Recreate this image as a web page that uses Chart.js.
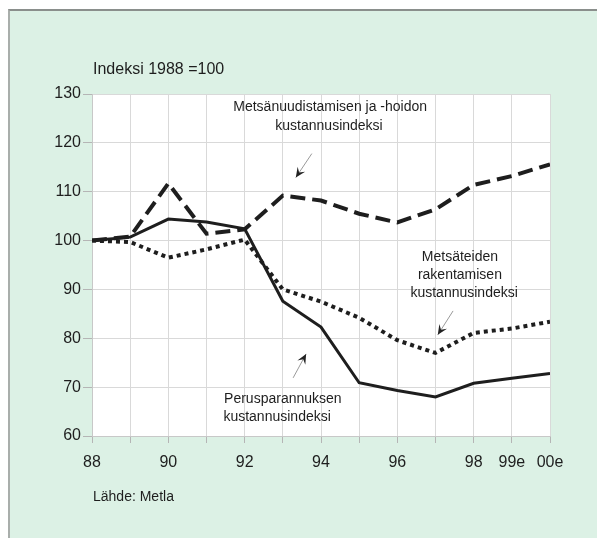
<!DOCTYPE html>
<html>
<head>
<meta charset="utf-8">
<script src="https://cdn.jsdelivr.net/npm/chart.js@4"></script>
<style>
html,body{margin:0;padding:0;background:#fff;}
#frame{position:absolute;left:8px;top:9px;right:0;bottom:0;background:#dcf1e5;border-top:2px solid #8a8f8c;border-left:2px solid #a9aeab;}
#c{position:absolute;left:0;top:0;}
</style>
</head>
<body>
<div id="frame"></div>
<canvas id="c" width="597" height="538"></canvas>
<script>
// ---- data ----
const years = [88, 89, 90, 91, 92, 93, 94, 95, 96, 97, 98, 99, 100];
const tickLabels = {88: "88", 90: "90", 92: "92", 94: "94", 96: "96", 98: "98", 99: "99e", 100: "00e"};
const uudistaminen = [100, 100.8, 111.7, 101.4, 102.3, 109.2, 108.2, 105.5, 103.7, 106.4, 111.4, 113.2, 115.6];
const metsatiet    = [100, 99.7, 96.5, 98.2, 100.2, 90.0, 87.5, 84.2, 79.6, 77.0, 81.1, 82.0, 83.4];
const perusparannus= [100, 100.7, 104.4, 103.8, 102.4, 87.6, 82.3, 70.9, 69.3, 68.0, 70.8, 71.8, 72.8];

const FONT = "'Liberation Sans', Arial, sans-serif";
const INK = '#1e1e1e';

function pts(arr){ return years.map((y,i)=>({x:y, y:arr[i]})); }

const decor = {
  id: 'decor',
  beforeDatasetsDraw(chart){},
  beforeDraw(chart){
    const {ctx, chartArea:a} = chart;
    ctx.save();
    ctx.fillStyle = '#ffffff';
    ctx.fillRect(a.left, a.top, a.right - a.left, a.bottom - a.top);
    ctx.restore();
  },
  afterDraw(chart){
    const {ctx} = chart;
    const xs = chart.scales.x, ys = chart.scales.y;
    const X = v => xs.getPixelForValue(v), Y = v => ys.getPixelForValue(v);
    ctx.save();
    ctx.fillStyle = INK;
    ctx.textBaseline = 'middle';
    // title
    ctx.font = '16px ' + FONT;
    ctx.textAlign = 'left';
    ctx.fillText('Indeksi 1988 =100', 93, 70);
    // source
    ctx.font = '14px ' + FONT;
    ctx.fillText('Lähde: Metla', 93, 497);
    // annotations
    ctx.font = '14px ' + FONT;
    ctx.textAlign = 'center';
    const labels = [
      ['Metsänuudistamisen ja -hoidon', 94.24, 127.4],
      ['kustannusindeksi', 94.21, 123.5],
      ['Metsäteiden', 97.64, 96.7],
      ['rakentamisen', 97.64, 93.0],
      ['kustannusindeksi', 97.75, 89.3],
      ['Perusparannuksen', 93.0, 67.6],
      ['kustannusindeksi', 92.85, 63.9]
    ];
    labels.forEach(([t,x,y]) => ctx.fillText(t, X(x), Y(y)));
    // arrows
    const arrows = [
      [93.76, 117.8, 93.34, 112.9],
      [97.46, 85.6, 97.06, 80.7],
      [93.27, 71.9, 93.61, 76.8]
    ];
    arrows.forEach(([x1,y1,x2,y2]) => {
      const px1 = X(x1), py1 = Y(y1), px2 = X(x2), py2 = Y(y2);
      ctx.strokeStyle = '#9a9a9a';
      ctx.lineWidth = 1;
      ctx.beginPath(); ctx.moveTo(px1, py1); ctx.lineTo(px2, py2); ctx.stroke();
      const ang = Math.atan2(py2 - py1, px2 - px1);
      const L = 10, W = 4.5;
      const bx = px2 - L * Math.cos(ang), by = py2 - L * Math.sin(ang);
      const nx = px2 - 0.6 * L * Math.cos(ang), ny = py2 - 0.6 * L * Math.sin(ang);
      ctx.fillStyle = '#222';
      ctx.beginPath();
      ctx.moveTo(px2, py2);
      ctx.lineTo(bx + W * Math.sin(ang), by - W * Math.cos(ang));
      ctx.lineTo(nx, ny);
      ctx.lineTo(bx - W * Math.sin(ang), by + W * Math.cos(ang));
      ctx.closePath();
      ctx.fill();
    });
    ctx.restore();
  }
};

new Chart(document.getElementById('c'), {
  type: 'line',
  data: {
    datasets: [
      { label: 'Metsäteiden rakentamisen kustannusindeksi', data: pts(metsatiet),
        borderColor: INK, borderWidth: 4, borderDash: [4, 4], borderCapStyle: 'butt', pointRadius: 0, tension: 0, fill: false },
      { label: 'Perusparannuksen kustannusindeksi', data: pts(perusparannus),
        borderColor: INK, borderWidth: 3, pointRadius: 0, tension: 0, fill: false },
      { label: 'Metsänuudistamisen ja -hoidon kustannusindeksi', data: pts(uudistaminen),
        borderColor: INK, borderWidth: 4, borderDash: [15, 7], borderCapStyle: 'butt', pointRadius: 0, tension: 0, fill: false }
    ]
  },
  options: {
    responsive: false,
    animation: false,
    layout: { padding: { left: 42, top: 94, right: 47, bottom: 62 } },
    plugins: { legend: { display: false }, tooltip: { enabled: false }, title: { display: false } },
    scales: {
      x: {
        type: 'linear', min: 88, max: 100,
        afterFit(s){ s.height = 40; },
        grid: { color: '#d9d9d9', tickColor: '#b5b5b5', tickLength: 7, lineWidth: 1 },
        border: { color: '#c8c8c8' },
        ticks: { stepSize: 1, autoSkip: false, maxRotation: 0, padding: 10, color: INK,
          font: { family: FONT, size: 16 },
          callback: v => tickLabels[v] !== undefined ? tickLabels[v] : '' }
      },
      y: {
        min: 60, max: 130,
        afterFit(s){ s.width = 50; },
        grid: { color: '#d9d9d9', tickColor: '#b5b5b5', tickLength: 9, lineWidth: 1 },
        border: { color: '#c8c8c8' },
        ticks: { stepSize: 10, padding: 2, color: INK, font: { family: FONT, size: 16 } }
      }
    }
  },
  plugins: [decor]
});
</script>
</body>
</html>
